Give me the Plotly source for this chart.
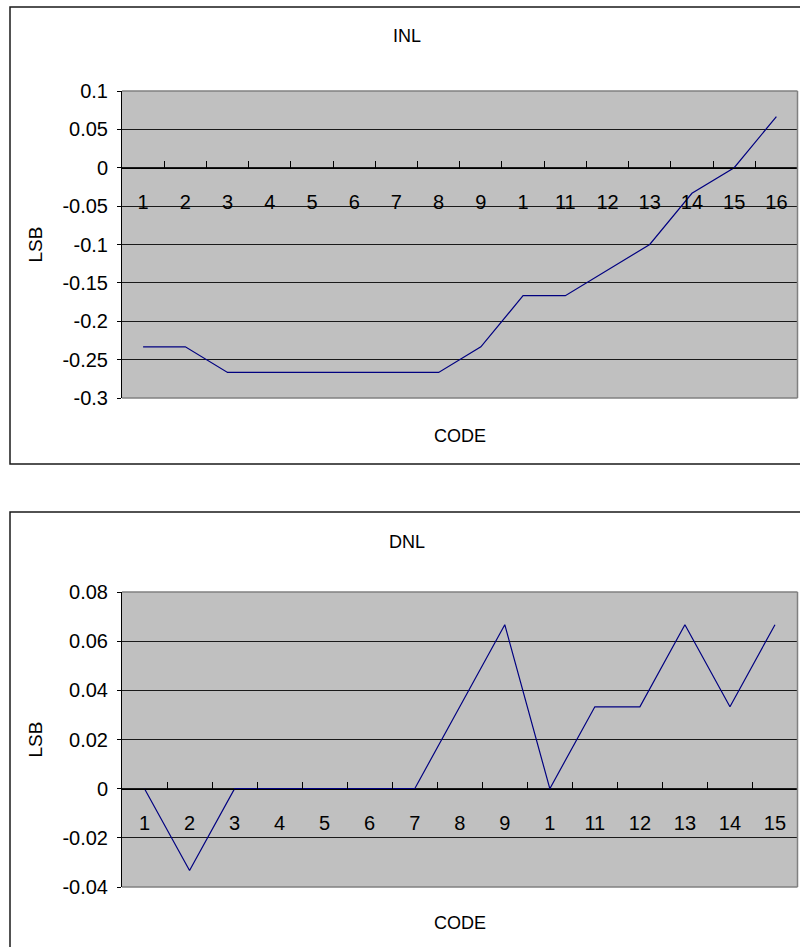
import plotly.graph_objects as go

# ---- data: linearity error per output code, in LSB ----
inl_codes = list(range(1, 17))
inl_labels = ["1", "2", "3", "4", "5", "6", "7", "8", "9", "1",
              "11", "12", "13", "14", "15", "16"]
inl_values = [-0.2333, -0.2333, -0.2667, -0.2667, -0.2667, -0.2667, -0.2667,
              -0.2667, -0.2333, -0.1667, -0.1667, -0.1333, -0.1, -0.0333,
              0.0, 0.0667]
inl_yticks = [0.1, 0.05, 0, -0.05, -0.1, -0.15, -0.2, -0.25, -0.3]
inl_ytext = ["0.1", "0.05", "0", "-0.05", "-0.1", "-0.15", "-0.2", "-0.25", "-0.3"]

dnl_codes = list(range(1, 16))
dnl_labels = ["1", "2", "3", "4", "5", "6", "7", "8", "9", "1",
              "11", "12", "13", "14", "15"]
dnl_values = [0.0, -0.0333, 0.0, 0.0, 0.0, 0.0, 0.0, 0.0333, 0.0667, 0.0,
              0.0333, 0.0333, 0.0667, 0.0333, 0.0667]
dnl_yticks = [0.08, 0.06, 0.04, 0.02, 0, -0.02, -0.04]
dnl_ytext = ["0.08", "0.06", "0.04", "0.02", "0", "-0.02", "-0.04"]

# ---- page geometry (pixels) ----
W, H = 800, 947
FONT = "Liberation Sans, Arial, sans-serif"
PLOT_BG = "#C0C0C0"
LINE = "#000080"


def fx(x):
    return x / W


def fy(y):
    return 1 - y / H


x_dom = [fx(122), fx(797.5)]

panels = [
    dict(title="INL", codes=inl_codes, labels=inl_labels, values=inl_values,
         yticks=inl_yticks, ytext=inl_ytext, yrange=[-0.3, 0.1],
         top=91, bottom=398, frame=(7, 464), title_y=36, code_y=436,
         xa="x", ya="y", xt="x3"),
    dict(title="DNL", codes=dnl_codes, labels=dnl_labels, values=dnl_values,
         yticks=dnl_yticks, ytext=dnl_ytext, yrange=[-0.04, 0.08],
         top=592, bottom=887, frame=(512, 1000), title_y=542, code_y=923,
         xa="x2", ya="y2", xt="x4"),
]

fig = go.Figure()
shapes = []
annotations = []
layout = {}


def axis_key(ref):
    return "xaxis" + ref[1:] if ref.startswith("x") else "yaxis" + ref[1:]


for p in panels:
    n = len(p["codes"])
    xr = [0.5, n + 0.5]
    y_dom = [fy(p["bottom"]), fy(p["top"])]
    lo, hi = p["yrange"]
    zero_pos = y_dom[0] + (0 - lo) / (hi - lo) * (y_dom[1] - y_dom[0])

    # data line
    fig.add_trace(go.Scatter(
        x=p["codes"], y=p["values"], mode="lines",
        line=dict(color=LINE, width=1.2),
        xaxis=p["xa"], yaxis=p["ya"], showlegend=False, hoverinfo="x+y"))
    # carrier for the category-boundary tick axis
    fig.add_trace(go.Scatter(
        x=[], y=[], mode="lines", xaxis=p["xt"], yaxis=p["ya"],
        showlegend=False, hoverinfo="skip"))

    # category labels, hung below the zero line
    layout[axis_key(p["xa"])] = dict(
        domain=x_dom, range=xr, tickmode="array",
        tickvals=p["codes"], ticktext=p["labels"], ticks="",
        showline=False, showgrid=False, zeroline=False,
        anchor="free", position=zero_pos, side="bottom",
        ticklabelstandoff=20, automargin=False,
        tickfont=dict(family=FONT, size=20, color="black"))
    # axis line at zero with tick marks between categories
    layout[axis_key(p["xt"])] = dict(
        overlaying=p["xa"], range=xr, tickmode="array",
        tickvals=[i + 0.5 for i in range(0, n + 1)],
        ticks="inside", ticklen=7, tickcolor="black", tickwidth=1,
        showticklabels=False, showline=True, linecolor="black", linewidth=1,
        showgrid=False, zeroline=False, anchor="free", position=zero_pos,
        side="bottom", automargin=False)
    layout[axis_key(p["ya"])] = dict(
        domain=y_dom, range=p["yrange"], tickmode="array",
        tickvals=p["yticks"], ticktext=p["ytext"],
        ticks="outside", ticklen=4, tickcolor="black",
        showline=True, linecolor="black", linewidth=1,
        showgrid=True, gridcolor="#1a1a1a", gridwidth=1, zeroline=False,
        anchor=p["xa"], ticklabelstandoff=5, automargin=False,
        tickfont=dict(family=FONT, size=20, color="black"))

    # grey border on top, right and bottom of the plot area
    xd = p["xa"] + " domain"
    yd = p["ya"] + " domain"
    for (x0, y0, x1, y1) in [(0, 1, 1, 1), (1, 0, 1, 1), (0, 0, 1, 0)]:
        shapes.append(dict(type="line", xref=xd, yref=yd, x0=x0, y0=y0,
                           x1=x1, y1=y1, line=dict(color="#808080", width=1.5),
                           layer="above"))
    # chart frame
    f_top, f_bot = p["frame"]
    shapes.append(dict(type="rect", xref="paper", yref="paper",
                       x0=fx(10), x1=1.05, y0=fy(f_bot), y1=fy(f_top),
                       line=dict(color="#1a1a1a", width=1.5),
                       fillcolor="rgba(0,0,0,0)", layer="below"))

    annotations.append(dict(text=p["title"], x=fx(407), y=fy(p["title_y"]),
                            xref="paper", yref="paper", showarrow=False,
                            xanchor="center", yanchor="middle",
                            font=dict(family=FONT, size=18, color="black")))
    annotations.append(dict(text="CODE", x=fx(460), y=fy(p["code_y"]),
                            xref="paper", yref="paper", showarrow=False,
                            xanchor="center", yanchor="middle",
                            font=dict(family=FONT, size=18, color="black")))
    annotations.append(dict(text="LSB", x=fx(35), y=(y_dom[0] + y_dom[1]) / 2,
                            xref="paper", yref="paper", showarrow=False,
                            textangle=-90, xanchor="center", yanchor="middle",
                            font=dict(family=FONT, size=19, color="black")))

fig.update_layout(
    width=W, height=H,
    margin=dict(l=0, r=0, t=0, b=0, autoexpand=False),
    paper_bgcolor="white", plot_bgcolor=PLOT_BG,
    shapes=shapes, annotations=annotations,
    showlegend=False,
    **layout)

fig.write_html("out.html")
